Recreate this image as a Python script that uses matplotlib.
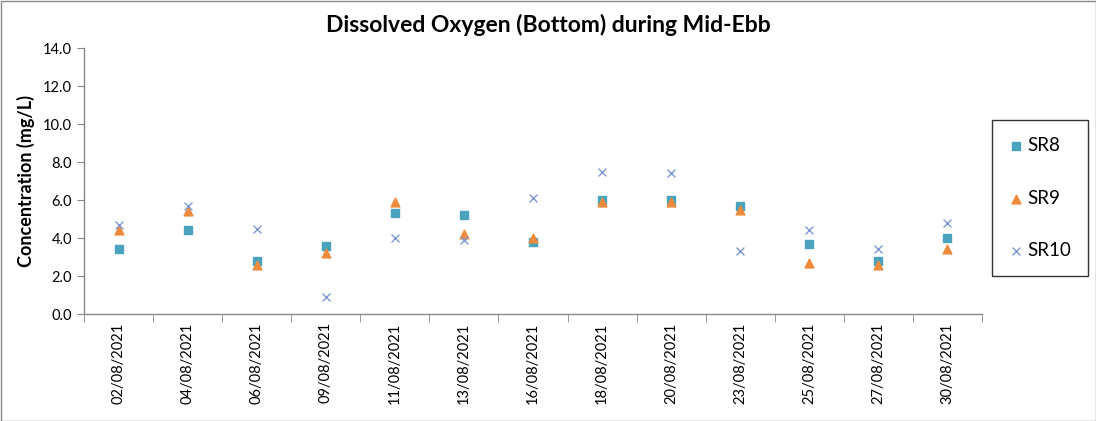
import matplotlib
matplotlib.use("Agg")
import matplotlib.pyplot as plt
import numpy as np

dates = ["02/08/2021", "04/08/2021", "06/08/2021", "09/08/2021", "11/08/2021",
         "13/08/2021", "16/08/2021", "18/08/2021", "20/08/2021", "23/08/2021",
         "25/08/2021", "27/08/2021", "30/08/2021"]
sr8 = [3.4, 4.4, 2.8, 3.6, 5.3, 5.2, 3.8, 6.0, 6.0, 5.7, 3.7, 2.8, 4.0]
sr9 = [4.4, 5.4, 2.6, 3.2, 5.9, 4.2, 4.0, 5.9, 5.9, 5.5, 2.7, 2.6, 3.4]
sr10 = [4.7, 5.7, 4.5, 0.9, 4.0, 3.9, 6.1, 7.5, 7.4, 3.3, 4.4, 3.4, 4.8]
yticks = [0.0, 2.0, 4.0, 6.0, 8.0, 10.0, 12.0, 14.0]

plt.rcParams['font.family'] = ['Lato', 'DejaVu Sans']

fig = plt.figure(figsize=(10.96, 4.21), dpi=100)
ax = fig.add_axes([84/1096, 1-314/421, (982-84)/1096, (314-48)/421])

x = np.arange(len(dates))
ax.scatter(x, sr8, marker='s', s=36, color='#4AA3BD', label='SR8', zorder=3)
ax.scatter(x, sr9, marker='^', s=40, color='#EE8A3C', label='SR9', zorder=3)
ax.scatter(x, sr10, marker='x', s=32, color='#7F9AD2', linewidths=1.0, label='SR10', zorder=3)

ax.set_xlim(-0.5, len(dates) - 0.5)
ax.set_ylim(0, 14)
ax.set_yticks(yticks)
ax.set_yticklabels([f"{v:.1f}" for v in yticks], fontsize=10.5)
ax.set_xticks(x)
ax.set_xticklabels(dates, rotation=90, fontsize=10.5)
ax.tick_params(axis='x', which='major', length=0, pad=6)
ax.set_xticks(np.arange(-0.5, len(dates)), minor=True)
ax.tick_params(axis='x', which='minor', length=6, color='#888888', direction='out')
ax.tick_params(axis='y', length=5, color='#888888', direction='out')

for s in ['top', 'right']:
    ax.spines[s].set_visible(False)
for s in ['left', 'bottom']:
    ax.spines[s].set_color('#888888')
    ax.spines[s].set_linewidth(1.0)

ax.set_ylabel('Concentration (mg/L)', fontsize=13, fontweight='bold', labelpad=6)
fig.text(548/1096, 1-25/421, 'Dissolved Oxygen (Bottom) during Mid-Ebb',
         fontsize=16.5, fontweight='bold', ha='center', va='center')

leg = fig.legend(loc='center', bbox_to_anchor=(1040/1096, 1-198/421),
                 frameon=True, fancybox=False, edgecolor='black', fontsize=13.5,
                 labelspacing=1.9, handletextpad=0.2, borderpad=0.9,
                 handlelength=0.8, borderaxespad=0)
leg.get_frame().set_linewidth(1.0)

border = plt.Rectangle((0.5/1096, 0.5/421), 1-1/1096, 1-1/421,
                       transform=fig.transFigure, fill=False,
                       edgecolor='#888888', linewidth=1.0)
fig.patches.append(border)

fig.savefig('out.png', dpi=100)
